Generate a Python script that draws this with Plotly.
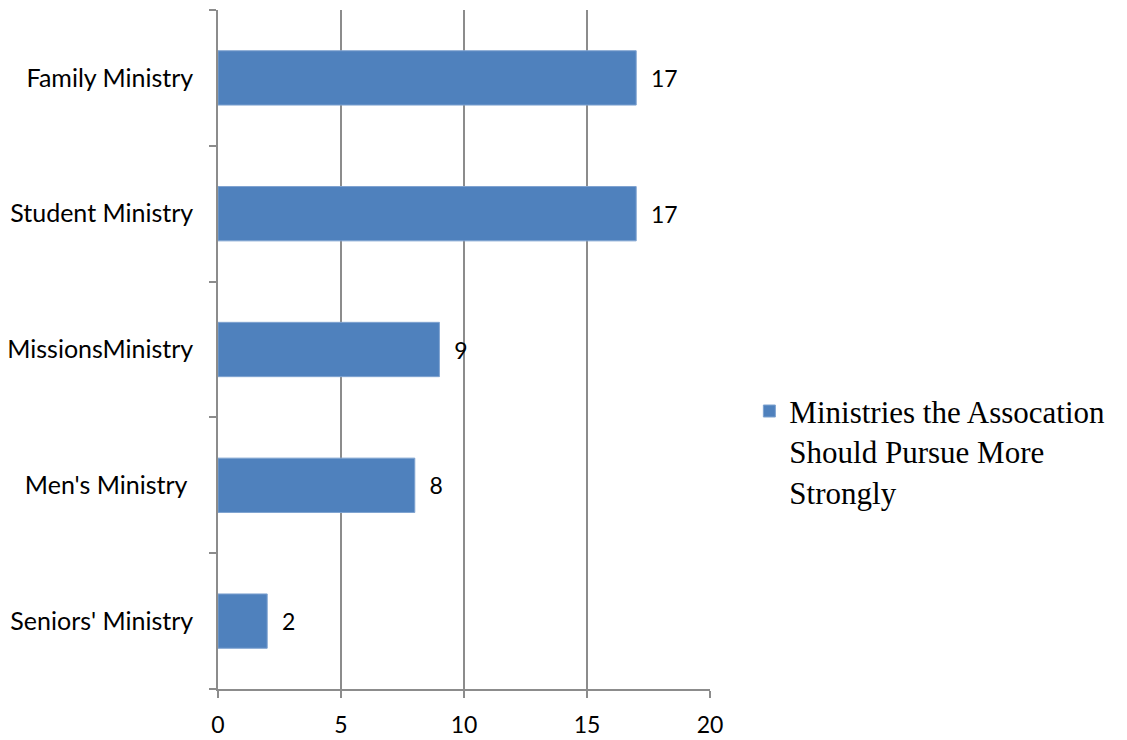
import plotly.graph_objects as go

categories = ["Family Ministry", "Student Ministry", "MissionsMinistry", "Men's Ministry ", "Seniors' Ministry"]
values = [17, 17, 9, 8, 2]
series_name = "Ministries the Assocation<br>Should Pursue More<br>Strongly"
x_ticks = [0, 5, 10, 15, 20]

fig = go.Figure()
fig.add_trace(go.Bar(
    y=categories, x=values, orientation="h",
    name=series_name,
    marker=dict(color="#4F81BD", line=dict(color="#7FA3D0", width=1)),
    width=0.4,
    text=[f"  {v}" for v in values],
    textposition="outside",
    textfont=dict(family="Lato, Carlito, sans-serif", size=23, color="black"),
    cliponaxis=False,
    showlegend=True,
))

grid = "#8C8C8C"
fig.update_layout(
    width=1127, height=740,
    margin=dict(l=210, r=425, t=2, b=59),
    paper_bgcolor="white", plot_bgcolor="white",
    font=dict(family="Lato, Carlito, sans-serif", size=23, color="black"),
    xaxis=dict(
        range=[0, 20], tickvals=x_ticks, showgrid=True, gridcolor=grid, gridwidth=1.5,
        showline=True, linecolor=grid, linewidth=1.5,
        ticks="outside", ticklen=7, tickcolor=grid, tickwidth=1.5,
        zeroline=False, fixedrange=True, automargin=False,
        ticklabelstandoff=8,
        tickfont=dict(size=23),
    ),
    yaxis=dict(
        categoryorder="array", categoryarray=categories[::-1],
        showline=True, linecolor=grid, linewidth=1.5,
        ticks="outside", ticklen=7, tickcolor=grid, tickwidth=1.5,
        tickson="boundaries", showgrid=False, automargin=False,
        ticklabelstandoff=18,
        tickfont=dict(size=25),
    ),
    legend=dict(
        x=1.08, xanchor="left", y=0.35, yanchor="middle",
        valign="top",
        font=dict(family="Liberation Serif, Times New Roman, serif", size=31, color="black"),
        itemwidth=30,
    ),
)

fig.write_html("out.html")
